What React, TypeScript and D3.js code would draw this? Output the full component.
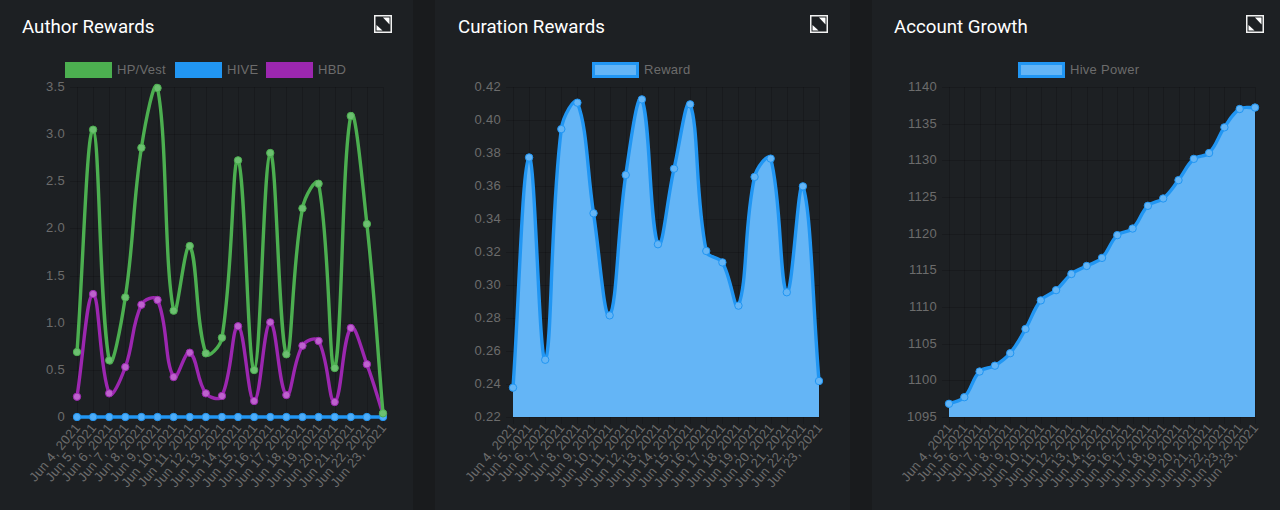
import React from "react";
import * as d3 from "d3";

const dates20 = ["Jun 4, 2021","Jun 5, 2021","Jun 6, 2021","Jun 7, 2021","Jun 8, 2021","Jun 9, 2021","Jun 10, 2021","Jun 11, 2021","Jun 12, 2021","Jun 13, 2021","Jun 14, 2021","Jun 15, 2021","Jun 16, 2021","Jun 17, 2021","Jun 18, 2021","Jun 19, 2021","Jun 20, 2021","Jun 21, 2021","Jun 22, 2021","Jun 23, 2021"];
const dates21 = [...dates20, "Jun 23, 2021"];

const hpVest = [0.689,3.047,0.601,1.269,2.856,3.489,1.128,1.813,0.675,0.841,2.722,0.498,2.8,0.665,2.213,2.474,0.52,3.192,2.047,0.039];
const hive = [0,0,0,0,0,0,0,0,0,0,0,0,0,0,0,0,0,0,0,0];
const hbd = [0.215,1.304,0.251,0.53,1.191,1.241,0.424,0.682,0.251,0.223,0.962,0.17,1.004,0.233,0.756,0.806,0.159,0.944,0.559,0.03];
const reward = [0.2378,0.3773,0.2547,0.3945,0.4105,0.3435,0.2816,0.3667,0.4125,0.3247,0.3705,0.4095,0.3206,0.3137,0.2875,0.3655,0.3766,0.2956,0.3598,0.2418];
const hivePower = [1096.8,1097.7,1101.2,1102.0,1103.7,1107.0,1110.9,1112.3,1114.5,1115.6,1116.7,1119.8,1120.7,1123.8,1124.8,1127.3,1130.2,1131.0,1134.5,1137.0,1137.2];

const ticksA = [0,0.5,1,1.5,2,2.5,3,3.5];
const ticksB = [0.22,0.24,0.26,0.28,0.3,0.32,0.34,0.36,0.38,0.4,0.42];
const ticksC = [1095,1100,1105,1110,1115,1120,1125,1130,1135,1140];

const GREEN = "#4CAF50", BLUE = "#2196F3", PURPLE = "#9C27B0";
const TOP = 87, BOTTOM = 417;
const FONT = "'Liberation Sans', Arial, sans-serif";
const GRID = "rgba(0,0,0,0.16)";
const TEXT = "#6c6c6c";
const SPACING = 0.28;

type Series = { name: string; values: number[]; color: string; point: string; fill?: string };

function spline(xs: number[], ys: number[], tension = 0.4) {
  const n = xs.length;
  const cp = xs.map((x, i) => {
    const p = i > 0 ? i - 1 : i, q = i < n - 1 ? i + 1 : i;
    const d01 = Math.hypot(x - xs[p], ys[i] - ys[p]);
    const d12 = Math.hypot(xs[q] - x, ys[q] - ys[i]);
    const sum = d01 + d12 || 1;
    const fa = (tension * d01) / sum, fb = (tension * d12) / sum;
    return {
      px: x - fa * (xs[q] - xs[p]), py: ys[i] - fa * (ys[q] - ys[p]),
      nx: x + fb * (xs[q] - xs[p]), ny: ys[i] + fb * (ys[q] - ys[p]),
    };
  });
  return (path: d3.Path) => {
    path.lineTo(xs[0], ys[0]);
    for (let i = 1; i < n; i++) {
      path.bezierCurveTo(cp[i - 1].nx, cp[i - 1].ny, cp[i].px, cp[i].py, xs[i], ys[i]);
    }
  };
}

function Chart(props: {
  left: number; labels: string[]; ticks: number[]; fmt: (v: number) => string;
  series: Series[]; title: string; titleX: number; iconX: number;
  legend: { x: number; textX: number }[];
}) {
  const { left, labels, ticks, fmt, series, title, titleX, iconX, legend } = props;
  const right = left + 306;
  const x = d3.scalePoint<number>().domain(labels.map((_, i) => i)).range([left, right]);
  const y = d3.scaleLinear().domain([ticks[0], ticks[ticks.length - 1]]).range([BOTTOM, TOP]);
  return (
    <g>
      <text x={titleX} y={33} fontFamily="Roboto, sans-serif" fontSize={18.7} fill="#fff">{title}</text>
      <g>
        <rect x={iconX + 0.75} y={15.75} width={16.5} height={16.5} fill="#1d2023" stroke="#f2f2f2" strokeWidth={1.5} />
        <path d={`M${iconX + 9} 17.5 H${iconX + 15.5} V24.5 Z`} fill="#fff" />
        <path d={`M${iconX + 2.5} 25 L${iconX + 8.5} 30.5 H${iconX + 2.5} Z`} fill="#fff" />
      </g>
      {series.map((s, i) => (
        <g key={s.name}>
          <rect x={legend[i].x + (s.fill ? 1.5 : 0.5)} y={s.fill ? 63.5 : 62.5} width={s.fill ? 44 : 46} height={s.fill ? 13 : 15}
            fill={s.fill ?? s.color} stroke={s.color} strokeWidth={s.fill ? 3 : 1} />
          <text x={legend[i].textX} y={74} fontFamily={FONT} fontSize={13} letterSpacing={SPACING} fill={TEXT}>{s.name}</text>
        </g>
      ))}
      {ticks.map((t) => (
        <g key={t}>
          <line x1={left - 7} x2={right} y1={Math.round(y(t)) + 0.5} y2={Math.round(y(t)) + 0.5} stroke={GRID} />
          <text x={left - 12} y={y(t) + 4} textAnchor="end" fontFamily={FONT} fontSize={13} letterSpacing={SPACING} fill={TEXT}>{fmt(t)}</text>
        </g>
      ))}
      {labels.map((l, i) => (
        <g key={i}>
          <line x1={Math.round(x(i)!) + 0.5} x2={Math.round(x(i)!) + 0.5} y1={TOP} y2={BOTTOM + 7} stroke={GRID} />
          <text transform={`translate(${x(i)! + 4},${BOTTOM + 11}) rotate(-50)`} textAnchor="end" fontFamily={FONT} fontSize={13} letterSpacing={SPACING} fill={TEXT}>{l}</text>
        </g>
      ))}
      {[...series].reverse().map((s) => {
        const xs = s.values.map((_, i) => x(i)!);
        const ys = s.values.map((v) => y(v));
        const line = d3.path();
        line.moveTo(xs[0], ys[0]);
        spline(xs, ys)(line);
        const area = d3.path();
        area.moveTo(xs[0], BOTTOM);
        spline(xs, ys)(area);
        area.lineTo(xs[xs.length - 1], BOTTOM);
        area.closePath();
        return (
          <g key={s.name}>
            {s.fill && <path d={area.toString()} fill={s.fill} />}
            <path d={line.toString()} fill="none" stroke={s.color} strokeWidth={3.4} />
            {xs.map((px, i) => (
              <circle key={i} cx={px} cy={ys[i]} r={3.7} fill={s.point} stroke={s.color} strokeWidth={1} />
            ))}
          </g>
        );
      })}
    </g>
  );
}

export default function App() {
  return (
    <svg width={1280} height={510} viewBox="0 0 1280 510" style={{ position: "absolute", left: 0, top: 0, display: "block" }}>
      <rect x={0} y={0} width={1280} height={510} fill="#191b1d" />
      <rect x={0} y={0} width={413} height={510} fill="#1d2023" />
      <rect x={435} y={0} width={415} height={510} fill="#1d2023" />
      <rect x={872} y={0} width={408} height={510} fill="#1d2023" />
      <Chart left={77} labels={dates20} ticks={ticksA} fmt={(v) => (v === 0 ? "0" : v.toFixed(1))}
        title="Author Rewards" titleX={22} iconX={374}
        legend={[{ x: 65, textX: 117 }, { x: 175, textX: 227 }, { x: 266, textX: 318 }]}
        series={[
          { name: "HP/Vest", values: hpVest, color: GREEN, point: "#6CC070" },
          { name: "HIVE", values: hive, color: BLUE, point: "#4FADF8" },
          { name: "HBD", values: hbd, color: PURPLE, point: "#BE62CE" },
        ]} />
      <Chart left={513} labels={dates20} ticks={ticksB} fmt={(v) => v.toFixed(2)}
        title="Curation Rewards" titleX={458} iconX={810}
        legend={[{ x: 592, textX: 644 }]}
        series={[{ name: "Reward", values: reward, color: BLUE, point: "#64B5F6", fill: "#64B5F6" }]} />
      <Chart left={949} labels={dates21} ticks={ticksC} fmt={(v) => String(v)}
        title="Account Growth" titleX={894} iconX={1246}
        legend={[{ x: 1018, textX: 1070 }]}
        series={[{ name: "Hive Power", values: hivePower, color: BLUE, point: "#64B5F6", fill: "#64B5F6" }]} />
    </svg>
  );
}
